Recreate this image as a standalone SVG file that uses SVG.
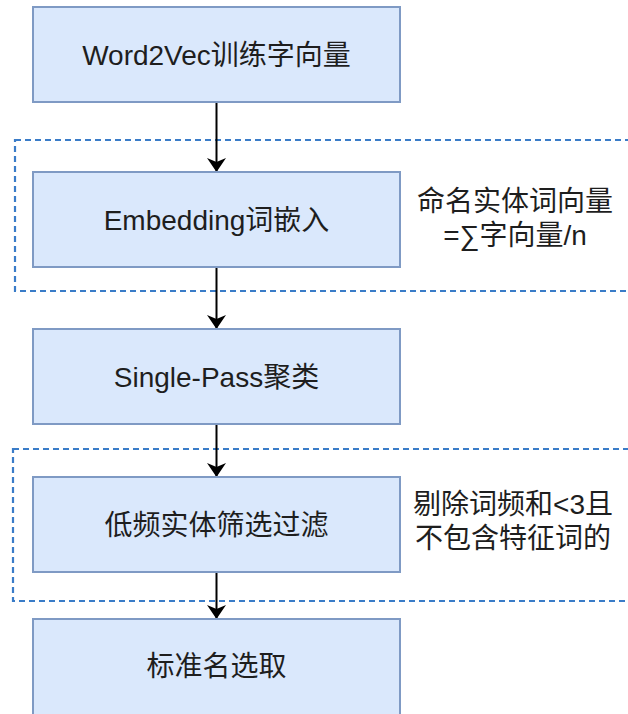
<svg xmlns="http://www.w3.org/2000/svg" width="628" height="714" viewBox="0 0 628 714">
  <style>
    .box { fill: #dae8fc; stroke: #7f9ac4; stroke-width: 2; }
    .lbl { font-family: "Liberation Sans", "Noto Sans CJK SC", sans-serif; font-size: 28px; fill: #1e1e1e; text-anchor: middle; }
    .note { font-family: "Liberation Sans", "Noto Sans CJK SC", sans-serif; font-size: 28px; fill: #1e1e1e; text-anchor: middle; }
    .grp { fill: none; stroke: #3a7cc8; stroke-width: 2.2; stroke-dasharray: 6 4; }
    .edge { fill: none; stroke: #000000; stroke-width: 2; marker-end: url(#arrow); }
  </style>
  <defs>
    <marker id="arrow" viewBox="0 0 14 19" refX="14" refY="9.5" markerWidth="14" markerHeight="19" markerUnits="userSpaceOnUse" orient="auto">
      <path d="M0,0 L14,9.5 L0,19 L4,9.5 Z" fill="#000000"/>
    </marker>
  </defs>
  <rect width="628" height="714" fill="#ffffff"/>

  <g id="group-embedding">
    <rect class="grp" x="15" y="140" width="640" height="151"/>
    <text class="note" x="515" y="211">命名实体词向量</text>
    <text class="note" x="515" y="245">=∑字向量/n</text>
  </g>
  <g id="group-filter">
    <rect class="grp" x="13" y="449" width="640" height="152"/>
    <text class="note" x="513" y="514">剔除词频和&lt;3且</text>
    <text class="note" x="513" y="548">不包含特征词的</text>
  </g>

  <g id="connectors">
    <line class="edge" x1="216.5" y1="103" x2="216.5" y2="172"/>
    <line class="edge" x1="216.5" y1="267" x2="216.5" y2="329"/>
    <line class="edge" x1="216.5" y1="424" x2="216.5" y2="477"/>
    <line class="edge" x1="216.5" y1="572" x2="216.5" y2="619"/>
  </g>

  <g id="node-word2vec">
    <rect class="box" x="33" y="7" width="367" height="95"/>
    <text class="lbl" x="216.5" y="65">Word2Vec训练字向量</text>
  </g>
  <g id="node-embedding">
    <rect class="box" x="33" y="172" width="367" height="95"/>
    <text class="lbl" x="216.5" y="230">Embedding词嵌入</text>
  </g>
  <g id="node-singlepass">
    <rect class="box" x="33" y="329" width="367" height="95"/>
    <text class="lbl" x="216.5" y="387">Single-Pass聚类</text>
  </g>
  <g id="node-filter">
    <rect class="box" x="33" y="477" width="367" height="95"/>
    <text class="lbl" x="216.5" y="535">低频实体筛选过滤</text>
  </g>
  <g id="node-standard">
    <rect class="box" x="33" y="619" width="367" height="97"/>
    <text class="lbl" x="216.5" y="676">标准名选取</text>
  </g>
</svg>
